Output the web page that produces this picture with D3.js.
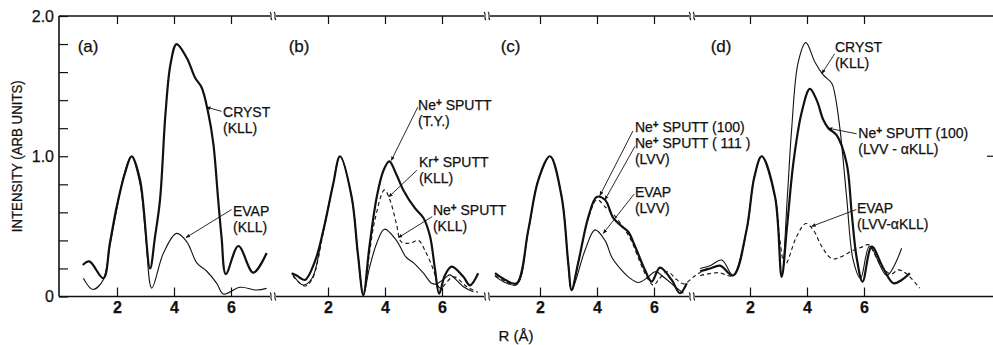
<!DOCTYPE html>
<html>
<head>
<meta charset="utf-8">
<script src="https://cdn.jsdelivr.net/npm/d3@7"></script>
<style>
  body { margin: 0; background: #fff; }
  svg text { font-family: "Liberation Sans", Arial, Helvetica, sans-serif; fill: #111; stroke: #111; stroke-width: 0.25px; }
</style>
</head>
<body>
<div id="chart"></div>
<script>
// ---- data (R in angstrom, intensity in arb. units) ----
var yTicks = [0, 0.2, 0.4, 0.6, 0.8, 1.0, 1.2, 1.4, 1.6, 1.8, 2.0];
var yTickLabels = { 0: '0', 1: '1.0', 2: '2.0' };
var xTicks = [2, 4, 6];
var panelNames = ['(a)', '(b)', '(c)', '(d)'];

// (a)
var aCryst = [[0.8,0.225],[1.03,0.25],[1.52,0.13],[1.75,0.38],[1.99,0.64],[2.28,0.88],[2.52,1.0],[2.81,0.83],[3.16,0.2],[3.33,0.42],[3.51,0.69],[3.7,1.3],[3.88,1.66],[4.09,1.8],[4.45,1.7],[4.74,1.56],[4.97,1.49],[5.2,1.31],[5.38,1.09],[5.55,0.69],[5.67,0.42],[5.82,0.16],[6.26,0.36],[6.78,0.17],[7.25,0.31]];
var aEvap = [[0.82,0.13],[1.15,0.05],[1.52,0.12],[1.75,0.36],[1.97,0.6],[2.25,0.87],[2.49,1.0],[2.81,0.8],[3.0,0.45],[3.22,0.06],[3.63,0.31],[4.09,0.45],[4.45,0.39],[4.8,0.24],[5.15,0.18],[5.5,0.094],[5.73,0.018],[6.32,0.066],[6.9,0.046],[7.25,0.058]];
// (b)
var bNeTY = [[0.73,0.166],[0.9,0.15],[1.19,0.118],[1.54,0.25],[1.84,0.475],[2.18,0.8],[2.42,1.0],[2.83,0.71],[3.05,0.3],[3.24,0.01],[3.45,0.35],[3.71,0.71],[3.95,0.9],[4.15,0.963],[4.4,0.87],[4.64,0.76],[5.05,0.63],[5.35,0.56],[5.58,0.43],[5.75,0.2],[5.9,0.02],[6.1,0.15],[6.34,0.213],[6.75,0.14],[6.98,0.08],[7.27,0.166]];
var bKr = [[0.77,0.146],[1.19,0.075],[1.44,0.12],[1.84,0.46],[2.18,0.8],[2.42,1.0],[2.83,0.71],[3.05,0.3],[3.24,0.01],[3.45,0.3],[3.65,0.55],[3.98,0.76],[4.17,0.69],[4.4,0.52],[4.57,0.39],[4.88,0.38],[5.17,0.4],[5.4,0.33],[5.7,0.19],[5.93,0.06],[6.4,0.14],[6.87,0.07],[7.26,0.03]];
var bNeKLL = [[0.73,0.166],[1.13,0.082],[1.44,0.13],[1.82,0.46],[2.18,0.8],[2.42,1.0],[2.83,0.71],[3.05,0.3],[3.24,0.01],[3.45,0.2],[3.71,0.38],[3.98,0.48],[4.4,0.4],[4.74,0.28],[5.0,0.24],[5.35,0.166],[5.64,0.094],[5.81,0.09],[6.16,0.14],[6.28,0.154],[6.75,0.07],[7.1,0.034]];
// (c)
var cNe100 = [[0.42,0.166],[0.77,0.12],[1.18,0.094],[1.59,0.475],[1.94,0.83],[2.35,1.0],[2.76,0.71],[2.99,0.24],[3.11,0.046],[3.34,0.24],[3.7,0.57],[3.99,0.71],[4.28,0.69],[4.57,0.56],[4.87,0.5],[5.1,0.46],[5.33,0.36],[5.68,0.19],[5.92,0.106],[6.21,0.206],[6.62,0.118],[6.91,0.023],[7.15,0.094]];
var cNe111 = [[0.42,0.15],[0.77,0.11],[1.18,0.085],[1.59,0.47],[1.94,0.83],[2.35,1.0],[2.76,0.71],[2.99,0.24],[3.11,0.046],[3.34,0.24],[3.7,0.56],[4.0,0.69],[4.28,0.64],[4.6,0.58],[4.9,0.5],[5.2,0.4],[5.5,0.25],[5.8,0.12],[5.98,0.08],[6.2,0.13],[6.47,0.177],[6.8,0.12],[7.05,0.09],[7.45,0.15],[7.96,0.21]];
var cEvap = [[0.42,0.145],[0.77,0.1],[1.18,0.085],[1.59,0.47],[1.94,0.83],[2.35,1.0],[2.76,0.71],[2.99,0.24],[3.11,0.046],[3.58,0.33],[3.93,0.475],[4.28,0.4],[4.52,0.28],[4.81,0.2],[5.1,0.14],[5.45,0.1],[5.8,0.14],[6.04,0.177],[6.39,0.13],[6.74,0.07],[7.03,0.023]];
// (d)
var dCryst = [[0.25,0.2],[0.6,0.22],[1.01,0.26],[1.41,0.15],[1.88,0.475],[2.15,0.85],[2.41,1.0],[2.88,0.71],[3.11,0.14],[3.31,0.71],[3.46,1.19],[3.69,1.67],[3.96,1.81],[4.28,1.67],[4.57,1.58],[4.87,1.52],[4.98,1.44],[5.16,1.19],[5.39,0.71],[5.62,0.26],[5.88,0.13],[6.2,0.36],[6.8,0.15],[7.32,0.344]];
var dNe100 = [[0.25,0.18],[0.6,0.2],[0.95,0.22],[1.41,0.15],[1.88,0.475],[2.15,0.85],[2.41,1.0],[2.88,0.71],[3.11,0.14],[3.3,0.5],[3.52,0.95],[3.81,1.31],[4.1,1.48],[4.34,1.4],[4.57,1.26],[4.75,1.2],[5.04,1.15],[5.39,0.95],[5.57,0.59],[5.74,0.28],[5.95,0.106],[6.27,0.356],[6.68,0.2],[7.03,0.094],[7.32,0.118],[7.61,0.166]];
var dEvap = [[0.25,0.15],[0.5,0.16],[0.9,0.17],[1.41,0.15],[1.88,0.47],[2.15,0.85],[2.41,1.0],[2.88,0.71],[3.05,0.4],[3.23,0.225],[3.64,0.43],[3.96,0.52],[4.22,0.475],[4.52,0.356],[4.87,0.27],[5.16,0.28],[5.62,0.33],[5.97,0.356],[6.15,0.37],[6.6,0.22],[6.95,0.16],[7.2,0.19],[7.5,0.16],[7.95,0.06]];

var series = [
  { panel: 0, data: aCryst, kind: 'thick' },
  { panel: 0, data: aEvap,  kind: 'thin' },
  { panel: 1, data: bNeKLL, kind: 'thin' },
  { panel: 1, data: bKr,    kind: 'dash' },
  { panel: 1, data: bNeTY,  kind: 'thick' },
  { panel: 2, data: cEvap,  kind: 'thin' },
  { panel: 2, data: cNe111, kind: 'dash' },
  { panel: 2, data: cNe100, kind: 'thick' },
  { panel: 3, data: dEvap,  kind: 'dash' },
  { panel: 3, data: dCryst, kind: 'thin' },
  { panel: 3, data: dNe100, kind: 'thick' }
];

// ---- layout ----
var W = 993, H = 345;
var axisLeftX = 59, axisRightX = 993;
var unit = 28.5;                       // px per angstrom
var panelOrigin = [60, 271, 483, 693];  // px where R = 0 in each panel
var breakX = [273, 487, 692];

var y = d3.scaleLinear().domain([0, 2]).range([296.5, 16]);
var xs = panelOrigin.map(function(o){
  return d3.scaleLinear().domain([0, 1]).range([o, o + unit]);
});

var styles = {
  thick: { w: 2.2, dash: null },
  thin:  { w: 1.1, dash: null },
  dash:  { w: 1.1, dash: '4,3' }
};

// annotation layout: text anchor and leader line in panel data coords
var notes = [
  { p: 0, at: [5.72, 1.28], lines: ['CRYST', '(KLL)'], from: [5.67, 1.32], to: [5.14, 1.35] },
  { p: 0, at: [6.07, 0.575], lines: ['EVAP', '(KLL)'], from: [6.02, 0.62], to: [4.42, 0.42] },
  { p: 1, at: [5.16, 1.33], lines: ['Ne|+| SPUTT', '(T.Y.)'], from: [5.15, 1.35], to: [4.22, 0.97] },
  { p: 1, at: [5.19, 0.925], lines: ['Kr|+| SPUTT', '(KLL)'], from: [5.12, 0.9], to: [4.13, 0.71] },
  { p: 1, at: [5.68, 0.58], lines: ['Ne|+| SPUTT', '(KLL)'], from: [5.66, 0.57], to: [4.47, 0.42] },
  { p: 2, at: [5.33, 1.175], lines: ['Ne|+| SPUTT (100)', 'Ne|+| SPUTT ( 111 )', '(LVV)'], from: [5.26, 1.18], to: [4.1, 0.72] },
  { p: 2, at: [5.33, 1.175], lines: [], from: [5.33, 1.07], to: [4.28, 0.69] },
  { p: 2, at: [5.33, 0.71], lines: ['EVAP', '(LVV)'], from: [5.3, 0.73], to: [4.22, 0.45] },
  { p: 3, at: [4.98, 1.746], lines: ['CRYST', '(KLL)'], from: [4.97, 1.73], to: [4.52, 1.59] },
  { p: 3, at: [5.8, 1.13], lines: ['Ne|+| SPUTT (100)', '(LVV - \u03b1KLL)'], from: [5.74, 1.16], to: [4.75, 1.2] },
  { p: 3, at: [5.75, 0.596], lines: ['EVAP', '(LVV-\u03b1KLL)'], from: [5.73, 0.62], to: [4.16, 0.5] }
];

var svg = d3.select('#chart').append('svg')
  .attr('width', W).attr('height', H)
  .style('background', '#fff');

var defs = svg.append('defs');
defs.append('marker')
  .attr('id', 'tip').attr('viewBox', '0 0 10 10')
  .attr('refX', 9).attr('refY', 5)
  .attr('markerWidth', 5).attr('markerHeight', 5)
  .attr('orient', 'auto')
  .append('path').attr('d', 'M0,1 L10,5 L0,9 Z').attr('fill', '#111');

// ---- axes ----
var yAxisG = svg.append('g')
  .attr('transform', 'translate(' + axisLeftX + ',0)')
  .call(d3.axisLeft(y).tickValues(yTicks).tickSize(-9).tickPadding(5)
    .tickFormat(function(d){ return yTickLabels[d] !== undefined ? yTickLabels[d] : ''; }));
yAxisG.select('.domain').remove();
yAxisG.selectAll('text').style('font-size', '16px');
yAxisG.selectAll('line').attr('stroke', '#111').attr('stroke-width', 1.2);

svg.append('line')
  .attr('x1', axisLeftX).attr('x2', axisLeftX)
  .attr('y1', y(2)).attr('y2', y(0))
  .attr('stroke', '#111').attr('stroke-width', 1.6);

// horizontal frame lines at top and bottom
[y(0), y(2)].forEach(function(yy){
  svg.append('line')
    .attr('x1', axisLeftX).attr('x2', axisRightX)
    .attr('y1', yy).attr('y2', yy)
    .attr('stroke', '#111').attr('stroke-width', 1.4);
});

xs.forEach(function(x){
  var b = svg.append('g')
    .attr('transform', 'translate(0,' + y(0) + ')')
    .call(d3.axisBottom(x).tickValues(xTicks).tickSize(-9).tickPadding(5).tickFormat(d3.format('d')));
  b.select('.domain').remove();
  b.selectAll('line').attr('stroke', '#111').attr('stroke-width', 1.2);
  b.selectAll('text').style('font-size', '16px').style('font-weight', 'bold');

  var t = svg.append('g')
    .attr('transform', 'translate(0,' + y(2) + ')')
    .call(d3.axisTop(x).tickValues(xTicks).tickSize(-8).tickFormat(''));
  t.select('.domain').remove();
  t.selectAll('line').attr('stroke', '#111').attr('stroke-width', 1.2);
});

// right-edge tick at 1.0
svg.append('line')
  .attr('x1', axisRightX - 6).attr('x2', axisRightX)
  .attr('y1', y(1)).attr('y2', y(1))
  .attr('stroke', '#111').attr('stroke-width', 1.2);

// axis break marks
breakX.forEach(function(bx){
  [y(0), y(2)].forEach(function(yy){
    svg.append('rect').attr('x', bx - 3).attr('y', yy - 2).attr('width', 6).attr('height', 4).attr('fill', '#fff');
    [-2, 2].forEach(function(dx){
      var cx = bx + dx;
      svg.append('path')
        .attr('d', 'M' + (cx - 1) + ',' + (yy - 4) +
                   ' C' + (cx + 2) + ',' + (yy - 2) + ' ' + (cx - 2) + ',' + (yy + 2) + ' ' + (cx + 1) + ',' + (yy + 4))
        .attr('fill', 'none').attr('stroke', '#111').attr('stroke-width', 1.1);
    });
  });
});

// ---- curves ----
series.forEach(function(s){
  var x = xs[s.panel];
  var st = styles[s.kind];
  var line = d3.line()
    .x(function(d){ return x(d[0]); })
    .y(function(d){ return y(d[1]); })
    .curve(d3.curveCatmullRom.alpha(0.5));
  svg.append('path')
    .datum(s.data)
    .attr('d', line)
    .attr('fill', 'none')
    .attr('stroke', '#111')
    .attr('stroke-width', st.w)
    .attr('stroke-linejoin', 'round')
    .attr('stroke-dasharray', st.dash);
});

// ---- annotations ----
function writeLine(sel, str) {
  // "|+|" marks a superscript plus
  var parts = str.split('|');
  parts.forEach(function(p, i){
    var ts = sel.append('tspan').text(p);
    if (i % 2 === 1) {
      ts.attr('baseline-shift', '40%').style('font-size', '10px').style('font-weight', 'bold');
    }
  });
}

notes.forEach(function(n){
  var x = xs[n.p];
  n.lines.forEach(function(str, i){
    var t = svg.append('text')
      .attr('x', x(n.at[0]))
      .attr('y', y(n.at[1]) + i * 16)
      .style('font-size', '14px');
    writeLine(t, str);
  });
  svg.append('line')
    .attr('x1', x(n.from[0])).attr('y1', y(n.from[1]))
    .attr('x2', x(n.to[0])).attr('y2', y(n.to[1]))
    .attr('stroke', '#111').attr('stroke-width', 0.9)
    .attr('marker-end', 'url(#tip)');
});

// panel letters
panelNames.forEach(function(name, i){
  svg.append('text')
    .attr('x', xs[i](0.62))
    .attr('y', y(1.74))
    .style('font-size', '17px')
    .text(name);
});

// axis titles
var yt = svg.append('text')
  .attr('transform', 'translate(22,' + y(1.0) + ') rotate(-90)')
  .attr('text-anchor', 'middle')
  .style('font-size', '15px')
  .text('INTENSITY (ARB UNITS)');
yt.attr('textLength', 152).attr('lengthAdjust', 'spacingAndGlyphs');

svg.append('text')
  .attr('x', xs[1](8.6))
  .attr('y', y(0) + 44)
  .attr('text-anchor', 'middle')
  .style('font-size', '15px')
  .text('R (\u00c5)');
</script>
</body>
</html>
